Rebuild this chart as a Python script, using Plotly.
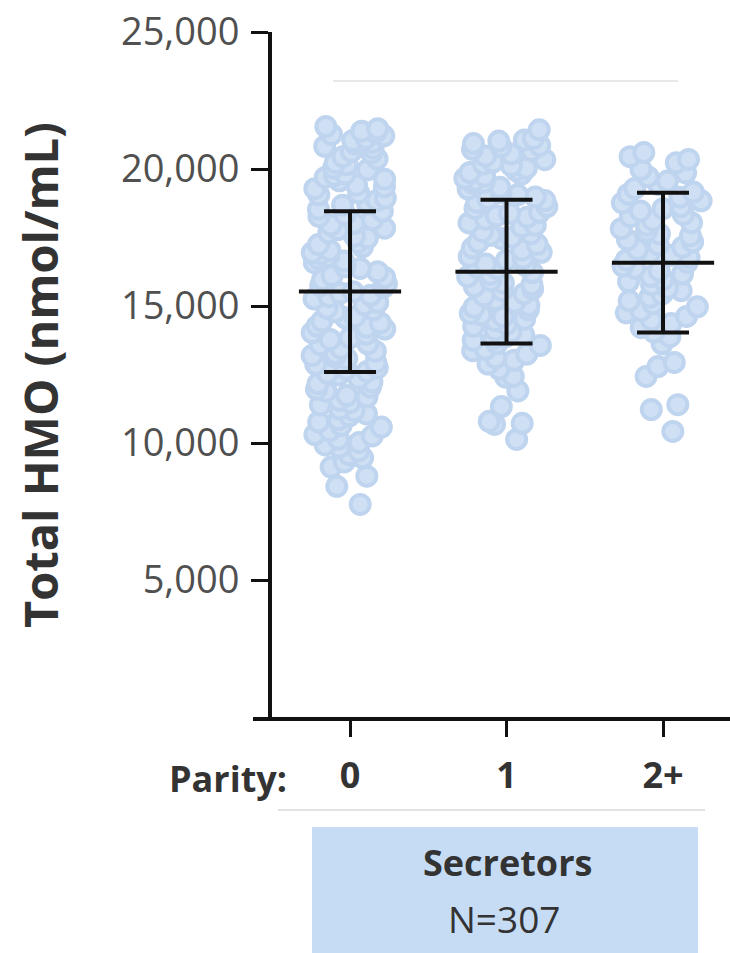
import plotly.graph_objects as go

# ---- data ----
categories = [0, 1, 2]
cat_labels = ["<b>0</b>", "<b>1</b>", "<b>2+</b>"]

parity0 = [
    7760, 8420, 8790, 9120, 9310, 9460, 9580, 9710, 9850, 9930,
    10020, 10140, 10260, 10310, 10450, 10580, 10640, 10770, 10850, 10990,
    11060, 11180, 11240, 11390, 11470, 11560, 11680, 11730, 11890, 11960,
    12040, 12170, 12230, 12360, 12480, 12550, 12690, 12740, 12870, 12930,
    13080, 13140, 13270, 13350, 13460, 13590, 13620, 13780, 13840, 13970,
    14030, 14160, 14220, 14380, 14450, 14570, 14610, 14790, 14860, 14920,
    15050, 15130, 15260, 15340, 15470, 15520, 15680, 15740, 15810, 15960,
    16040, 16110, 16250, 16370, 16430, 16580, 16640, 16720, 16890, 16950,
    17030, 17160, 17240, 17320, 17480, 17550, 17670, 17790, 17840, 17960,
    18020, 18150, 18270, 18340, 18460, 18530, 18680, 18720, 18850, 18940,
    19060, 19130, 19280, 19350, 19410, 19570, 19630, 19760, 19820, 19970,
    20040, 20160, 20230, 20370, 20450, 20580, 20640, 20760, 20830, 20970,
    21040, 21120, 21260, 21330, 21470, 21380, 21550, 21210, 20910, 19690,
    15390, 14270, 16820, 13190, 12610,
]
parity1 = [
    10130, 10680, 10720, 10790, 11330, 11900, 12400, 12430, 12700, 12880,
    13020, 13110, 13240, 13370, 13420, 13560, 13630, 13750, 13880, 13940,
    14050, 14130, 14260, 14340, 14470, 14520, 14680, 14730, 14860, 14950,
    15020, 15140, 15230, 15370, 15450, 15560, 15620, 15780, 15840, 15930,
    16070, 16150, 16220, 16360, 16480, 16530, 16670, 16740, 16810, 16960,
    17040, 17120, 17250, 17330, 17460, 17580, 17640, 17720, 17890, 17950,
    18030, 18170, 18240, 18380, 18420, 18560, 18630, 18790, 18850, 18920,
    19060, 19140, 19270, 19330, 19480, 19520, 19660, 19740, 19810, 19950,
    20030, 20120, 20260, 20340, 20470, 20550, 20680, 20720, 20860, 20930,
    21020, 21110, 21060, 20810, 21430, 19590, 18980, 16420, 15710, 14610,
    13810, 17510, 18290, 20180, 19870,
]
parity2 = [
    10420, 11220, 11400, 12430, 12790, 12940, 13620, 13880, 14050, 14210,
    14360, 14490, 14620, 14750, 14830, 14970, 15080, 15190, 15320, 15440,
    15560, 15650, 15780, 15890, 15960, 16080, 16170, 16290, 16380, 16460,
    16590, 16680, 16770, 16850, 16940, 17060, 17150, 17230, 17340, 17420,
    17560, 17630, 17740, 17820, 17950, 18040, 18130, 18260, 18340, 18470,
    18550, 18630, 18760, 18840, 18970, 19080, 19160, 19290, 19430, 19560,
    19720, 19860, 19980, 20230, 20450, 20600, 20350,
]
group_values = [parity0, parity1, parity2]

means = [15525, 16254, 16582]
sds = [2930, 2620, 2550]

y_tickvals = [5000, 10000, 15000, 20000, 25000]
y_ticktext = ["5,000", "10,000", "15,000", "20,000", "25,000"]

FONT = "Open Sans"

fig = go.Figure()

for cat, vals in zip(categories, group_values):
    fig.add_trace(go.Box(
        x=[cat] * len(vals), y=vals,
        boxpoints="all", jitter=1, pointpos=0, width=0.56,
        fillcolor="rgba(0,0,0,0)", line=dict(width=0, color="rgba(0,0,0,0)"),
        marker=dict(symbol="circle", size=19, color="#cfe0f4",
                    line=dict(width=4, color="#bfd4ee")),
        hoverinfo="y",
    ))

fig.add_trace(go.Scatter(
    x=categories, y=means, mode="markers",
    marker=dict(symbol="line-ew", size=73, color="#111",
                line=dict(width=4, color="#111")),
    error_y=dict(type="data", array=sds, visible=True,
                 thickness=4, width=26, color="#111"),
))

W, H = 730, 953
L, R, T, B = 253, 0, 32, 236
pw, ph = W - L - R, H - T - B


def px(xp):
    return (xp - L) / pw


def py(yp):
    return (T + ph - yp) / ph


fig.update_layout(
    width=W, height=H,
    margin=dict(l=L, r=R, t=T, b=B, pad=0),
    paper_bgcolor="white", plot_bgcolor="white",
    showlegend=False,
    font=dict(family=FONT, color="#333"),
    xaxis=dict(
        range=[-0.620, 2.428], tickvals=categories, ticktext=cat_labels,
        showline=True, linewidth=4, linecolor="#111",
        ticks="outside", ticklen=16, tickwidth=3, tickcolor="#111",
        ticklabelstandoff=8,
        showgrid=False, zeroline=False,
        tickfont=dict(family=FONT, size=36, color="#333"),
    ),
    yaxis=dict(
        range=[0, 25000], tickvals=y_tickvals, ticktext=y_ticktext,
        anchor="free", position=px(270),
        showline=True, linewidth=4, linecolor="#111",
        ticks="outside", ticklen=17, tickwidth=3, tickcolor="#111",
        ticklabelstandoff=4,
        showgrid=False, zeroline=False,
        tickfont=dict(family=FONT, size=38, color="#505050"),
    ),
)

shapes = [
    dict(type="line", xref="paper", yref="paper", x0=px(333), x1=px(678),
         y0=py(81), y1=py(81), line=dict(color="#e8e8e8", width=2), layer="below"),
    dict(type="line", xref="paper", yref="paper", x0=px(278), x1=px(705),
         y0=py(810), y1=py(810), line=dict(color="#e2e2e2", width=2)),
    dict(type="rect", xref="paper", yref="paper", x0=px(312), x1=px(698),
         y0=py(827), y1=py(965), fillcolor="#c6dcf5", line=dict(width=0)),
]
fig.update_layout(shapes=shapes)

fig.add_annotation(text="<b>Total HMO (nmol/mL)</b>", xref="paper", yref="paper",
                   x=px(40), y=py(375), textangle=-90, showarrow=False,
                   xanchor="center", yanchor="middle",
                   font=dict(family=FONT, size=47, color="#333"))
fig.add_annotation(text="<b>Parity:</b>", xref="paper", yref="paper",
                   x=px(289), y=py(778), showarrow=False,
                   xanchor="right", yanchor="middle",
                   font=dict(family=FONT, size=36, color="#333"))
fig.add_annotation(text="<b>Secretors</b>", xref="paper", yref="paper",
                   x=px(507), y=py(862), showarrow=False,
                   xanchor="center", yanchor="middle",
                   font=dict(family=FONT, size=36, color="#333"))
fig.add_annotation(text="N=307", xref="paper", yref="paper",
                   x=px(504), y=py(918), showarrow=False,
                   xanchor="center", yanchor="middle",
                   font=dict(family=FONT, size=37, color="#333"))

fig.write_html("out.html", config={"displayModeBar": False},
               post_script="document.body.style.margin='0';")
